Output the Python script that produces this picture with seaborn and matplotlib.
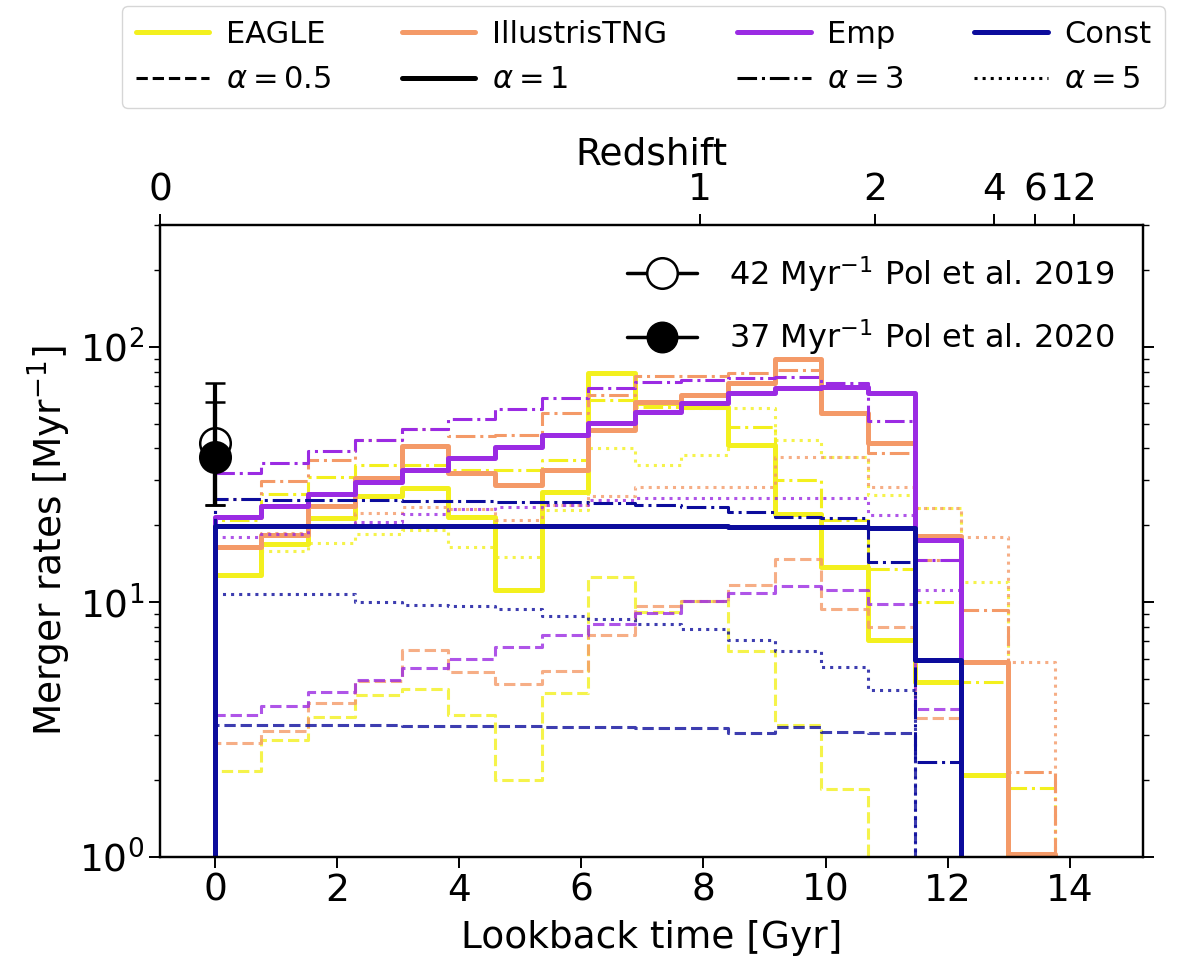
import numpy as np
import pandas as pd
import matplotlib
matplotlib.use('Agg')
import matplotlib.pyplot as plt
from matplotlib.lines import Line2D
import seaborn as sns

# lookback-time bins [Gyr]
bin_edges = [0.0, 0.76, 1.53, 2.29, 3.06, 3.82, 4.58, 5.35, 6.11, 6.88,
             7.64, 8.40, 9.17, 9.93, 10.69, 11.46, 12.22, 12.99, 13.75]

models = ['EAGLE', 'IllustrisTNG', 'Emp', 'Const']
alphas = ['0.5', '1', '3', '5']

# merger rates per bin [Myr^-1] (0 = below the axis)
eagle_a05 = [2.18, 2.88, 3.54, 4.3, 4.55, 3.6, 2.0, 4.38, 12.5, 9.1, 10.1, 6.4, 3.3, 1.84, 0, 0, 0, 0]
eagle_a1 = [12.7, 16.9, 21.4, 26.1, 27.9, 21.6, 11.1, 27.0, 78.8, 60.0, 58.0, 41.2, 22.2, 13.7, 7.1, 4.86, 2.1, 0]
eagle_a3 = [21.0, 26.5, 31.0, 34.4, 34.4, 33.0, 33.0, 36.0, 62.0, 58.0, 57.5, 48.6, 30.0, 21.0, 13.5, 10.0, 4.86, 1.87]
eagle_a5 = [16.4, 15.9, 17.0, 18.5, 19.1, 16.4, 15.0, 23.0, 40.0, 34.4, 37.6, 57.6, 43.0, 37.0, 26.2, 23.3, 12.0, 0]

tng_a05 = [2.8, 3.13, 4.0, 4.9, 6.5, 5.3, 4.76, 5.37, 7.4, 9.6, 10.1, 11.6, 14.7, 9.35, 8.0, 3.5, 0, 0]
tng_a1 = [16.4, 18.3, 23.8, 30.6, 40.7, 32.0, 28.8, 33.0, 47.0, 61.0, 65.0, 72.0, 90.0, 55.0, 42.1, 18.2, 5.83, 1.03]
tng_a3 = [25.3, 29.8, 36.0, 43.3, 47.5, 44.8, 45.0, 55.0, 65.0, 77.0, 77.0, 78.8, 81.0, 55.0, 38.3, 14.6, 9.3, 2.16]
tng_a5 = [16.4, 18.7, 20.0, 22.3, 23.5, 23.1, 21.0, 24.0, 26.0, 28.3, 28.3, 28.3, 37.0, 37.0, 28.3, 23.3, 18.0, 5.8]

emp_a05 = [3.6, 3.9, 4.44, 4.95, 5.5, 5.98, 6.67, 7.43, 8.18, 9.05, 10.1, 10.87, 11.5, 11.1, 9.8, 3.8, 0, 0]
emp_a1 = [21.6, 23.8, 26.5, 29.6, 32.9, 36.6, 40.5, 45.0, 50.5, 55.6, 60.5, 65.7, 68.8, 69.6, 65.7, 17.5, 0, 0]
emp_a3 = [31.9, 34.9, 38.9, 43.3, 47.8, 51.9, 57.0, 62.8, 68.8, 73.0, 74.0, 75.5, 76.5, 72.0, 51.0, 14.6, 0, 0]
emp_a5 = [17.9, 18.5, 19.7, 20.6, 22.1, 23.1, 23.5, 24.0, 25.0, 25.5, 25.5, 25.5, 25.5, 25.5, 22.0, 11.1, 0, 0]

const_a05 = [3.3, 3.3, 3.3, 3.3, 3.25, 3.25, 3.25, 3.24, 3.24, 3.2, 3.2, 3.05, 3.22, 3.1, 3.05, 0, 0, 0]
const_a1 = [19.9, 19.9, 19.9, 19.9, 19.9, 19.9, 19.9, 19.9, 19.8, 19.8, 19.8, 19.7, 19.7, 19.6, 19.5, 5.9, 0, 0]
const_a3 = [25.3, 25.2, 25.1, 25.0, 24.9, 24.8, 24.7, 24.6, 24.4, 24.0, 23.5, 22.5, 21.6, 21.3, 14.3, 2.36, 0, 0]
const_a5 = [10.7, 10.7, 10.7, 9.97, 9.7, 9.6, 9.35, 8.83, 8.6, 8.2, 7.8, 7.1, 6.4, 5.57, 4.5, 0, 0, 0]

rates = {
    'EAGLE': [eagle_a05, eagle_a1, eagle_a3, eagle_a5],
    'IllustrisTNG': [tng_a05, tng_a1, tng_a3, tng_a5],
    'Emp': [emp_a05, emp_a1, emp_a3, emp_a5],
    'Const': [const_a05, const_a1, const_a3, const_a5],
}

# observational estimates (Pol et al.)
obs_labels = ['42 Myr$^{-1}$ Pol et al. 2019', '37 Myr$^{-1}$ Pol et al. 2020']
obs_rate = [42, 37]
obs_err_lo = [18, 13]
obs_err_hi = [30, 24]

z_ticks = [0, 1, 2, 4, 6, 12]

colors = {'EAGLE': '#f3f01e', 'IllustrisTNG': '#f49a68',
          'Emp': '#9b2be3', 'Const': '#0c0c9c'}
styles = {'0.5': '--', '1': '-', '3': '-.', '5': ':'}
widths = {'0.5': 2.2, '1': 3.6, '3': 2.2, '5': 2.2}
fades = {'0.5': 0.8, '1': 1.0, '3': 1.0, '5': 0.8}


def lookback_gyr(z, H0=67.7, Om=0.31):
    zz = np.linspace(0, z, 4000)
    E = np.sqrt(Om * (1 + zz)**3 + 1 - Om)
    return 977.79 / H0 * np.trapezoid(1.0 / ((1 + zz) * E), zz)


sns.set_style('ticks')
plt.rcParams['font.family'] = ['DejaVu Sans']
plt.rcParams['axes.edgecolor'] = 'black'
plt.rcParams['axes.labelcolor'] = 'black'
plt.rcParams['text.color'] = 'black'
plt.rcParams['xtick.color'] = 'black'
plt.rcParams['ytick.color'] = 'black'
plt.rcParams['axes.linewidth'] = 1.6

fig, ax = plt.subplots(figsize=(11.79, 9.58), dpi=100)
fig.subplots_adjust(left=0.1357, right=0.9695, top=0.765, bottom=0.1054)
ax.set_yscale('log')

edges = np.array(bin_edges)
width = edges[1] - edges[0]
centers = 0.5 * (edges[1:] + edges[:-1])
# empty bins on both sides so the outline drops to zero at the ends
bins_ext = [edges[0] - width] + list(bin_edges) + [edges[-1] + width]

for m in models:
    for a, vals in zip(alphas, rates[m]):
        df = pd.DataFrame({'t': centers, 'rate': vals})
        sns.histplot(data=df, x='t', weights='rate', bins=bins_ext,
                     element='step', fill=False, color=colors[m],
                     linestyle=styles[a], linewidth=widths[a],
                     alpha=fades[a], ax=ax)

for i in range(2):
    ax.errorbar([0], [obs_rate[i]], yerr=[[obs_err_lo[i]], [obs_err_hi[i]]],
                fmt='o', color='black', ms=22,
                mfc='none' if i == 0 else 'black', mew=1.8,
                elinewidth=3, capsize=7, capthick=2, zorder=10)

fs = 27
ax.set_xlim(-0.9, 15.2)
ax.set_ylim(1, 300)
ax.set_xlabel('Lookback time [Gyr]', fontsize=fs, labelpad=8)
ax.set_ylabel('Merger rates [Myr$^{-1}$]', fontsize=fs)
ax.tick_params(axis='both', which='major', labelsize=fs, length=8, width=1.4)
ax.tick_params(axis='y', which='minor', length=4, width=1.0)
ax.tick_params(axis='y', which='both', right=True)
ax.set_xticks([0, 2, 4, 6, 8, 10, 12, 14])

# redshift axis on top
ax2 = ax.twiny()
ax2.set_xlim(0, 14.45)
ax2.set_xticks([lookback_gyr(z) for z in z_ticks])
ax2.set_xticklabels([str(z) for z in z_ticks])
ax2.tick_params(axis='x', labelsize=fs, length=8, width=1.4, pad=4)
ax2.set_xlabel('Redshift', fontsize=fs, labelpad=6)

# inner legend for observations
obs_handles = [
    Line2D([], [], color='black', lw=2.5, marker='o', ms=22, mfc='white', mew=1.8),
    Line2D([], [], color='black', lw=2.5, marker='o', ms=22, mfc='black'),
]
ax.legend(obs_handles, obs_labels, loc='upper right', frameon=False,
          fontsize=23, handlelength=2.2, handletextpad=1.0,
          labelspacing=0.75)

# top legend: models and alpha values
handles, labels = [], []
for m, a in zip(models, alphas):
    handles.append(Line2D([], [], color=colors[m], lw=3.6))
    labels.append(m)
    handles.append(Line2D([], [], color='black', ls=styles[a], lw=widths[a] if a != '1' else 3.6))
    labels.append(r'$\alpha = %s$' % a)
fig.legend(handles, labels, loc='upper center', ncol=4, fontsize=22,
           bbox_to_anchor=(0.546, 0.997), borderaxespad=0.1,
           handlelength=2.4, handletextpad=0.55, columnspacing=2.3,
           labelspacing=0.55, borderpad=0.45, frameon=True,
           edgecolor='#cccccc', fancybox=True)

plt.savefig('out.png', dpi=100)
